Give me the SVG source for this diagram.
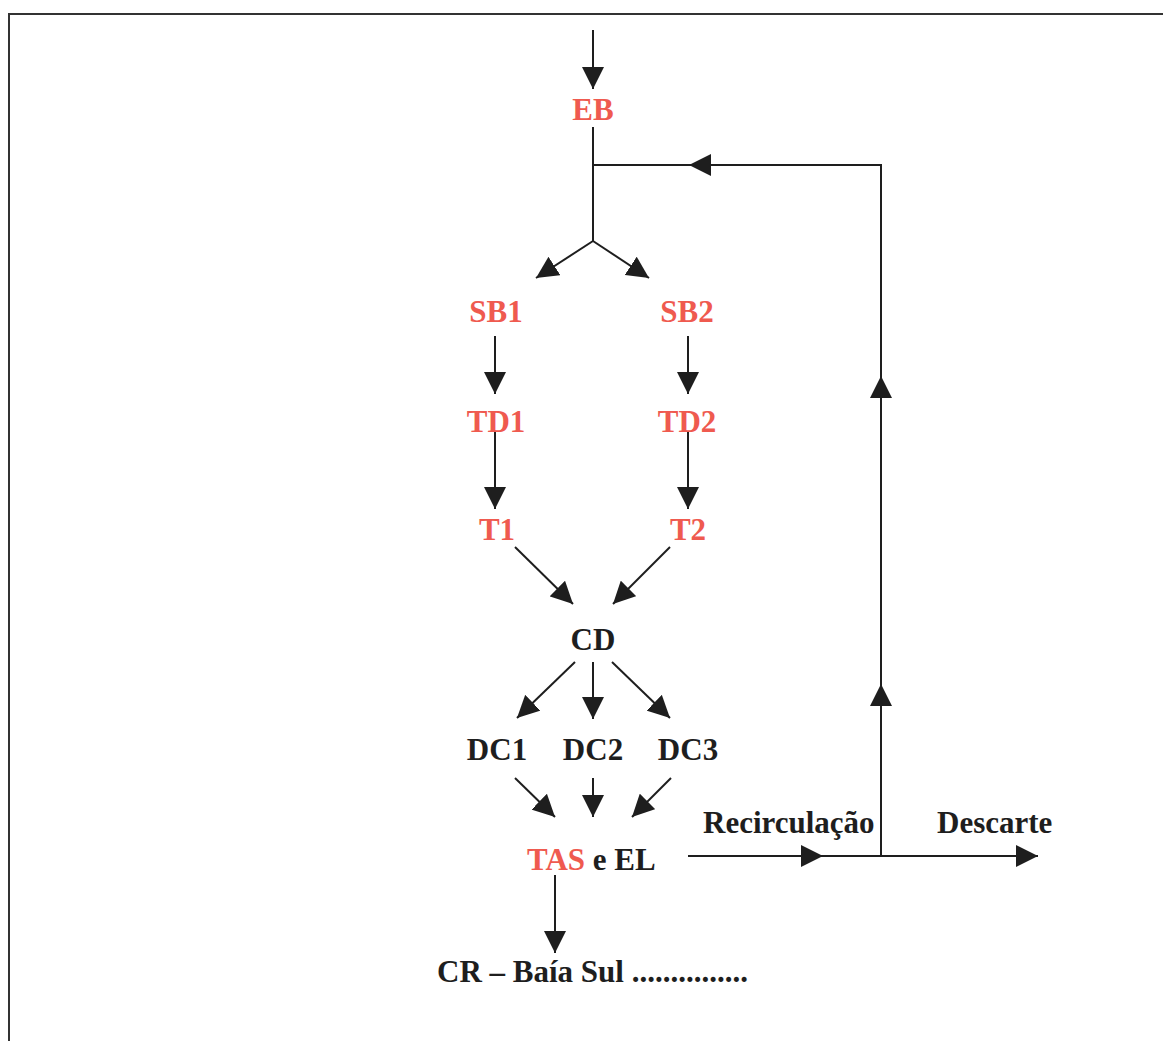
<svg xmlns="http://www.w3.org/2000/svg" width="1163" height="1041" viewBox="0 0 1163 1041">
<style>
  text { font-family: "Liberation Serif", "Times New Roman", serif; font-weight: bold; font-size: 31px; }
  .red { fill: #ef5a4f; }
  .blk { fill: #1e1e1e; }
  .ln { stroke: #1e1e1e; stroke-width: 2; fill: none; }
  .arr { marker-end: url(#ah); }
  .frame { stroke: #333; stroke-width: 2; fill: none; }
</style>
<defs>
  <marker id="ah" markerUnits="userSpaceOnUse" markerWidth="22" markerHeight="22" refX="20" refY="10" orient="auto" viewBox="0 0 20 20">
    <path d="M0,0 L20,10 L0,20 z" fill="#1e1e1e"/>
  </marker>
</defs>
<rect width="1163" height="1041" fill="#fff"/>
<path class="frame" d="M9,1041 V14 H1163"/>

<g id="connectors">
  <line class="ln arr" x1="593" y1="30" x2="593" y2="89"/>
  <line class="ln" x1="593" y1="127" x2="593" y2="241"/>
  <line class="ln arr" x1="593" y1="241" x2="536" y2="278"/>
  <line class="ln arr" x1="593" y1="241" x2="649" y2="278"/>
  <line class="ln arr" x1="495" y1="336" x2="495" y2="394"/>
  <line class="ln arr" x1="688" y1="336" x2="688" y2="394"/>
  <line class="ln arr" x1="495" y1="432" x2="495" y2="509"/>
  <line class="ln arr" x1="688" y1="432" x2="688" y2="509"/>
  <line class="ln arr" x1="515" y1="547" x2="573" y2="604"/>
  <line class="ln arr" x1="670" y1="547" x2="613" y2="604"/>
  <line class="ln arr" x1="575" y1="662" x2="517" y2="718"/>
  <line class="ln arr" x1="593" y1="662" x2="593" y2="719"/>
  <line class="ln arr" x1="612" y1="662" x2="670" y2="718"/>
  <line class="ln arr" x1="515" y1="778" x2="555" y2="817"/>
  <line class="ln arr" x1="593" y1="778" x2="593" y2="817"/>
  <line class="ln arr" x1="671" y1="778" x2="632" y2="817"/>
  <line class="ln arr" x1="555" y1="875" x2="555" y2="953"/>
  <line class="ln arr" x1="688" y1="856" x2="823" y2="856"/>
  <line class="ln arr" x1="823" y1="856" x2="1038" y2="856"/>
  <line class="ln arr" x1="881" y1="856" x2="881" y2="684"/>
  <line class="ln arr" x1="881" y1="684" x2="881" y2="376"/>
  <line class="ln" x1="881" y1="376" x2="881" y2="165"/>
  <line class="ln arr" x1="882" y1="165" x2="689" y2="165"/>
  <line class="ln" x1="689" y1="165" x2="593" y2="165"/>
</g>

<g id="EB"><text class="red" x="593" y="120" text-anchor="middle">EB</text></g>
<g id="SB1"><text class="red" x="496" y="322" text-anchor="middle">SB1</text></g>
<g id="SB2"><text class="red" x="687" y="322" text-anchor="middle">SB2</text></g>
<g id="TD1"><text class="red" x="496" y="432" text-anchor="middle">TD1</text></g>
<g id="TD2"><text class="red" x="687" y="432" text-anchor="middle">TD2</text></g>
<g id="T1"><text class="red" x="497" y="540" text-anchor="middle">T1</text></g>
<g id="T2"><text class="red" x="688" y="540" text-anchor="middle">T2</text></g>
<g id="CD"><text class="blk" x="593" y="650" text-anchor="middle">CD</text></g>
<g id="DC1"><text class="blk" x="497" y="760" text-anchor="middle">DC1</text></g>
<g id="DC2"><text class="blk" x="593" y="760" text-anchor="middle">DC2</text></g>
<g id="DC3"><text class="blk" x="688" y="760" text-anchor="middle">DC3</text></g>
<g id="TAS"><text class="blk" x="527" y="870" font-size="32"><tspan class="red">TAS</tspan> e EL</text></g>
<g id="CR"><text class="blk" x="437" y="982">CR – Baía Sul ...............</text></g>
<g id="Recirculacao"><text class="blk" x="703" y="833">Recirculação</text></g>
<g id="Descarte"><text class="blk" x="937" y="833">Descarte</text></g>
</svg>
